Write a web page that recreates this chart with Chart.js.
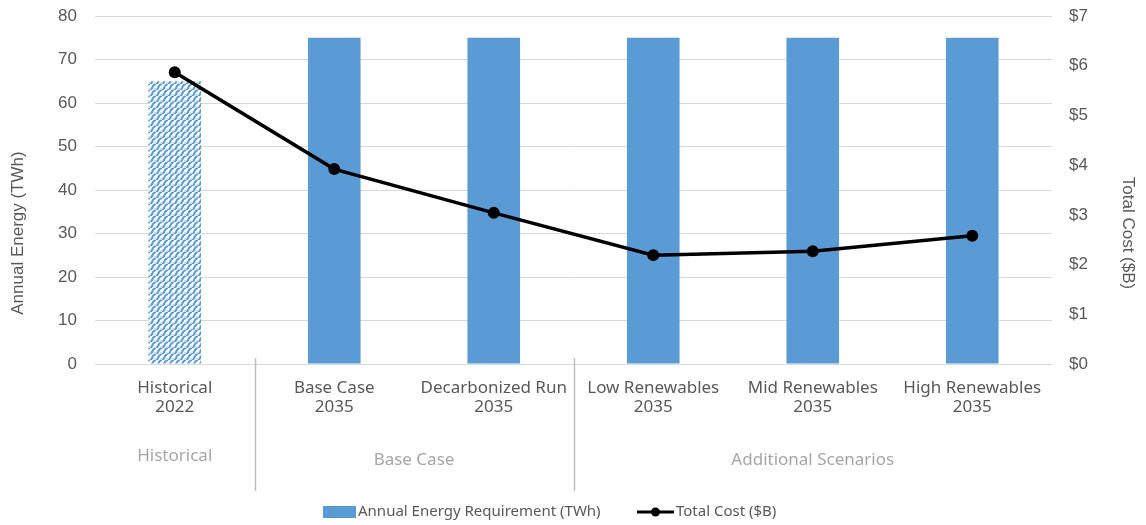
<!DOCTYPE html>
<html>
<head>
<meta charset="utf-8">
<script src="https://cdn.jsdelivr.net/npm/chart.js@4.4.1/dist/chart.umd.min.js"></script>
<style>
  html, body { margin: 0; padding: 0; background: #fff; }
  #wrap { width: 1146px; height: 525px; }
</style>
</head>
<body>
<div id="wrap"><canvas id="costChart" width="1146" height="525"></canvas></div>
<script>
var categories = [
    ['Historical', '2022'],
    ['Base Case', '2035'],
    ['Decarbonized Run', '2035'],
    ['Low Renewables', '2035'],
    ['Mid Renewables', '2035'],
    ['High Renewables', '2035']
];
var energyTWh = [65, 75, 75, 75, 75, 75];
var costB = [5.87, 3.92, 3.04, 2.19, 2.27, 2.58];
var groupNames = ['Historical', 'Base Case', 'Additional Scenarios'];
var groupFirst = [0, 1, 3];
var groupLast = [0, 2, 5];

var barBlue = '#5B9BD5';
var tickGray = '#595959';
var numFont = '"Liberation Sans", Arial, sans-serif';
var textFont = '"Noto Sans", sans-serif';

// wavy hatch used for the historical bar
function makeWavePattern() {
    var c = document.createElement('canvas');
    c.width = 6; c.height = 6;
    var g = c.getContext('2d');
    g.fillStyle = '#ffffff';
    g.fillRect(0, 0, 6, 6);
    g.strokeStyle = barBlue;
    g.lineWidth = 2;
    for (var k = -6; k <= 6; k += 6) {
        g.beginPath();
        g.moveTo(k, 6);
        g.bezierCurveTo(k + 3, 6, k + 1, 1, k + 6, 0);
        g.stroke();
    }
    g.fillStyle = 'rgba(91,155,213,0.35)';
    g.fillRect(4, 4, 2, 2);
    return document.getElementById('costChart').getContext('2d').createPattern(c, 'repeat');
}

var barColors = energyTWh.map(function(v, i) { return i === 0 ? makeWavePattern() : barBlue; });

// keep the tick padding from pushing the plot area down
function fixVertical(width) {
    return function(s) {
        s.width = width;
        s.paddingTop = 10;
        s.paddingBottom = 10;
    };
}

var extras = {
    id: 'extras',
    afterDraw: function(chart) {
        var ctx = chart.ctx;
        var x = chart.scales.x;
        var area = chart.chartArea;
        var step = x.getPixelForValue(1) - x.getPixelForValue(0);
        ctx.save();

        // separators between groups
        ctx.strokeStyle = '#bfbfbf';
        ctx.lineWidth = 1.5;
        for (var i = 1; i < groupFirst.length; i++) {
            var sx = Math.round(x.getPixelForValue(groupFirst[i]) - step / 2) + 0.5;
            ctx.beginPath();
            ctx.moveTo(sx, area.bottom - 6);
            ctx.lineTo(sx, area.bottom + 127);
            ctx.stroke();
        }

        // group names
        ctx.fillStyle = '#a6a6a6';
        ctx.font = '17px ' + textFont;
        ctx.textAlign = 'center';
        ctx.textBaseline = 'middle';
        for (var j = 0; j < groupNames.length; j++) {
            var cx = (x.getPixelForValue(groupFirst[j]) + x.getPixelForValue(groupLast[j])) / 2;
            ctx.fillText(groupNames[j], cx, j === 0 ? 456 : 460);
        }

        // axis titles
        ctx.fillStyle = tickGray;
        ctx.font = '17px ' + numFont;
        ctx.save();
        ctx.translate(18, 233);
        ctx.rotate(-Math.PI / 2);
        ctx.fillText('Annual Energy (TWh)', 0, 0);
        ctx.restore();
        ctx.save();
        ctx.translate(1128, 233);
        ctx.rotate(Math.PI / 2);
        ctx.fillText('Total Cost ($B)', 0, 0);
        ctx.restore();

        // legend
        var ly = 512;
        ctx.font = '15px ' + textFont;
        ctx.textAlign = 'left';
        ctx.fillStyle = barBlue;
        ctx.fillRect(323, ly - 6, 33, 12);
        ctx.fillStyle = tickGray;
        ctx.fillText(chart.data.datasets[1].label, 358, ly);
        ctx.strokeStyle = '#000';
        ctx.lineWidth = 3;
        ctx.beginPath();
        ctx.moveTo(637, ly);
        ctx.lineTo(674, ly);
        ctx.stroke();
        ctx.fillStyle = '#000';
        ctx.beginPath();
        ctx.arc(655.5, ly, 4.5, 0, Math.PI * 2);
        ctx.fill();
        ctx.fillStyle = tickGray;
        ctx.fillText(chart.data.datasets[0].label, 676, ly);
        ctx.restore();
    }
};

new Chart(document.getElementById('costChart'), {
    type: 'bar',
    data: {
        labels: categories,
        datasets: [
            {
                type: 'line',
                label: 'Total Cost ($B)',
                data: costB,
                yAxisID: 'y1',
                borderColor: '#000',
                backgroundColor: '#000',
                borderWidth: 3.5,
                pointRadius: 6,
                pointBorderWidth: 0,
                tension: 0,
                order: 0
            },
            {
                label: 'Annual Energy Requirement (TWh)',
                data: energyTWh,
                yAxisID: 'y',
                backgroundColor: barColors,
                categoryPercentage: 1,
                barPercentage: 0.33,
                order: 1
            }
        ]
    },
    options: {
        responsive: false,
        animation: false,
        layout: { padding: { top: 16, bottom: 32, left: 0, right: 0 } },
        plugins: { legend: { display: false }, tooltip: { enabled: false } },
        scales: {
            x: {
                grid: { display: false, drawTicks: false },
                border: { display: false },
                ticks: {
                    color: tickGray,
                    font: { family: textFont, size: 17, lineHeight: 1.1 },
                    padding: 15,
                    maxRotation: 0,
                    autoSkip: false
                },
                afterFit: function(s) { s.height = 129; }
            },
            y: {
                position: 'left',
                min: 0, max: 80,
                ticks: { stepSize: 10, color: tickGray, font: { family: numFont, size: 17 }, padding: 18 },
                grid: { color: '#d9d9d9', lineWidth: 1, drawTicks: false },
                border: { display: false },
                afterFit: fixVertical(95)
            },
            y1: {
                position: 'right',
                min: 0, max: 7,
                ticks: {
                    stepSize: 1, color: tickGray, font: { family: numFont, size: 17 }, padding: 17,
                    callback: function(v) { return '$' + v; }
                },
                grid: { drawOnChartArea: false, drawTicks: false },
                border: { display: false },
                afterFit: fixVertical(94)
            }
        }
    },
    plugins: [extras]
});
</script>
</body>
</html>
